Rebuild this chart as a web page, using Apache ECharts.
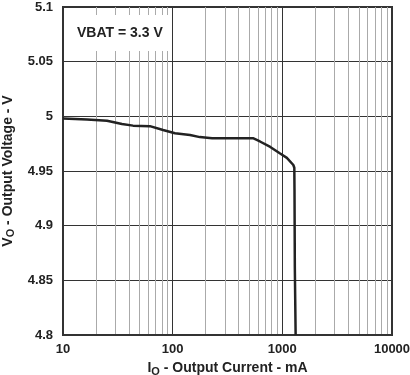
<!DOCTYPE html>
<html>
<head>
<meta charset="utf-8">
<script src="https://cdn.jsdelivr.net/npm/echarts@6/dist/echarts.min.js"></script>
<style>
  html, body { margin: 0; padding: 0; background: #fff; }
  #chart { width: 410px; height: 375px; }
</style>
</head>
<body>
<div id="chart"></div>
<script>
// output current (mA) and output voltage (V)
const currentMA = [10, 16.6, 25.2, 34.5, 43.5, 62, 81.7, 105, 144, 177, 229, 507, 540, 625, 776, 955, 1100, 1260, 1286, 1291, 1300, 1322];
const voltageV = [4.998, 4.997, 4.996, 4.993, 4.9915, 4.991, 4.9875, 4.9845, 4.983, 4.981, 4.980, 4.980, 4.980, 4.977, 4.972, 4.966, 4.962, 4.9555, 4.953, 4.933, 4.862, 4.800];

const xTicks = [10, 100, 1000, 10000];
const yMin = 4.8, yMax = 5.1, yStep = 0.05;
const note = 'VBAT = 3.3 V';

const chart = echarts.init(document.getElementById('chart'), null, { renderer: 'canvas' });

const labelFont = {
  color: '#222',
  fontFamily: 'Liberation Sans, Arial, sans-serif',
  fontWeight: 'bold',
  fontSize: 13
};
const nameRich = {
  m: { fontSize: 14, fontWeight: 'bold', color: '#222', fontFamily: 'Liberation Sans, Arial, sans-serif', lineHeight: 18 },
  s: { fontSize: 11, fontWeight: 'bold', color: '#222', fontFamily: 'Liberation Sans, Arial, sans-serif', lineHeight: 10, verticalAlign: 'bottom' }
};

const option = {
  backgroundColor: '#fff',
  animation: false,
  title: {
    text: note,
    left: 69,
    top: 15,
    padding: [10, 8, 10, 8],
    backgroundColor: '#fff',
    textStyle: { fontSize: 14, fontWeight: 'bold', color: '#222', fontFamily: 'Liberation Sans, Arial, sans-serif', lineHeight: 16 }
  },
  grid: {
    left: 63, right: 18, top: 7, bottom: 40,
    show: true, borderColor: '#333', borderWidth: 2,
    containLabel: false,
    outerBoundsMode: 'none'
  },
  xAxis: {
    type: 'log',
    logBase: 10,
    min: xTicks[0],
    max: xTicks[xTicks.length - 1],
    name: '{m|I}{s|O}{m| - Output Current - mA}',
    nameLocation: 'middle',
    nameGap: 24,
    nameTextStyle: { rich: nameRich },
    axisLine: { show: true, lineStyle: { color: '#333', width: 2 } },
    axisTick: { show: false },
    axisLabel: { ...labelFont, margin: 8, formatter: v => String(Math.round(v)) },
    splitLine: { show: true, lineStyle: { color: '#333', width: 1 } },
    minorTick: { show: false, splitNumber: 9 },
    minorSplitLine: { show: true, lineStyle: { color: '#aaa', width: 1 } }
  },
  yAxis: {
    type: 'value',
    min: yMin,
    max: yMax,
    interval: yStep,
    name: '{m|V}{s|O}{m| - Output Voltage - V}',
    nameLocation: 'middle',
    nameGap: 44,
    nameTextStyle: { rich: nameRich },
    axisLine: { show: true, lineStyle: { color: '#333', width: 2 } },
    axisTick: { show: false },
    axisLabel: { ...labelFont, margin: 10, formatter: v => String(+v.toFixed(2)) },
    splitLine: { show: true, lineStyle: { color: '#333', width: 1 } }
  },
  series: [{
    type: 'line',
    data: currentMA.map((c, i) => [c, voltageV[i]]),
    symbol: 'none',
    smooth: false,
    lineStyle: { color: '#222', width: 2.5 }
  }]
};

chart.setOption(option);
</script>
</body>
</html>
